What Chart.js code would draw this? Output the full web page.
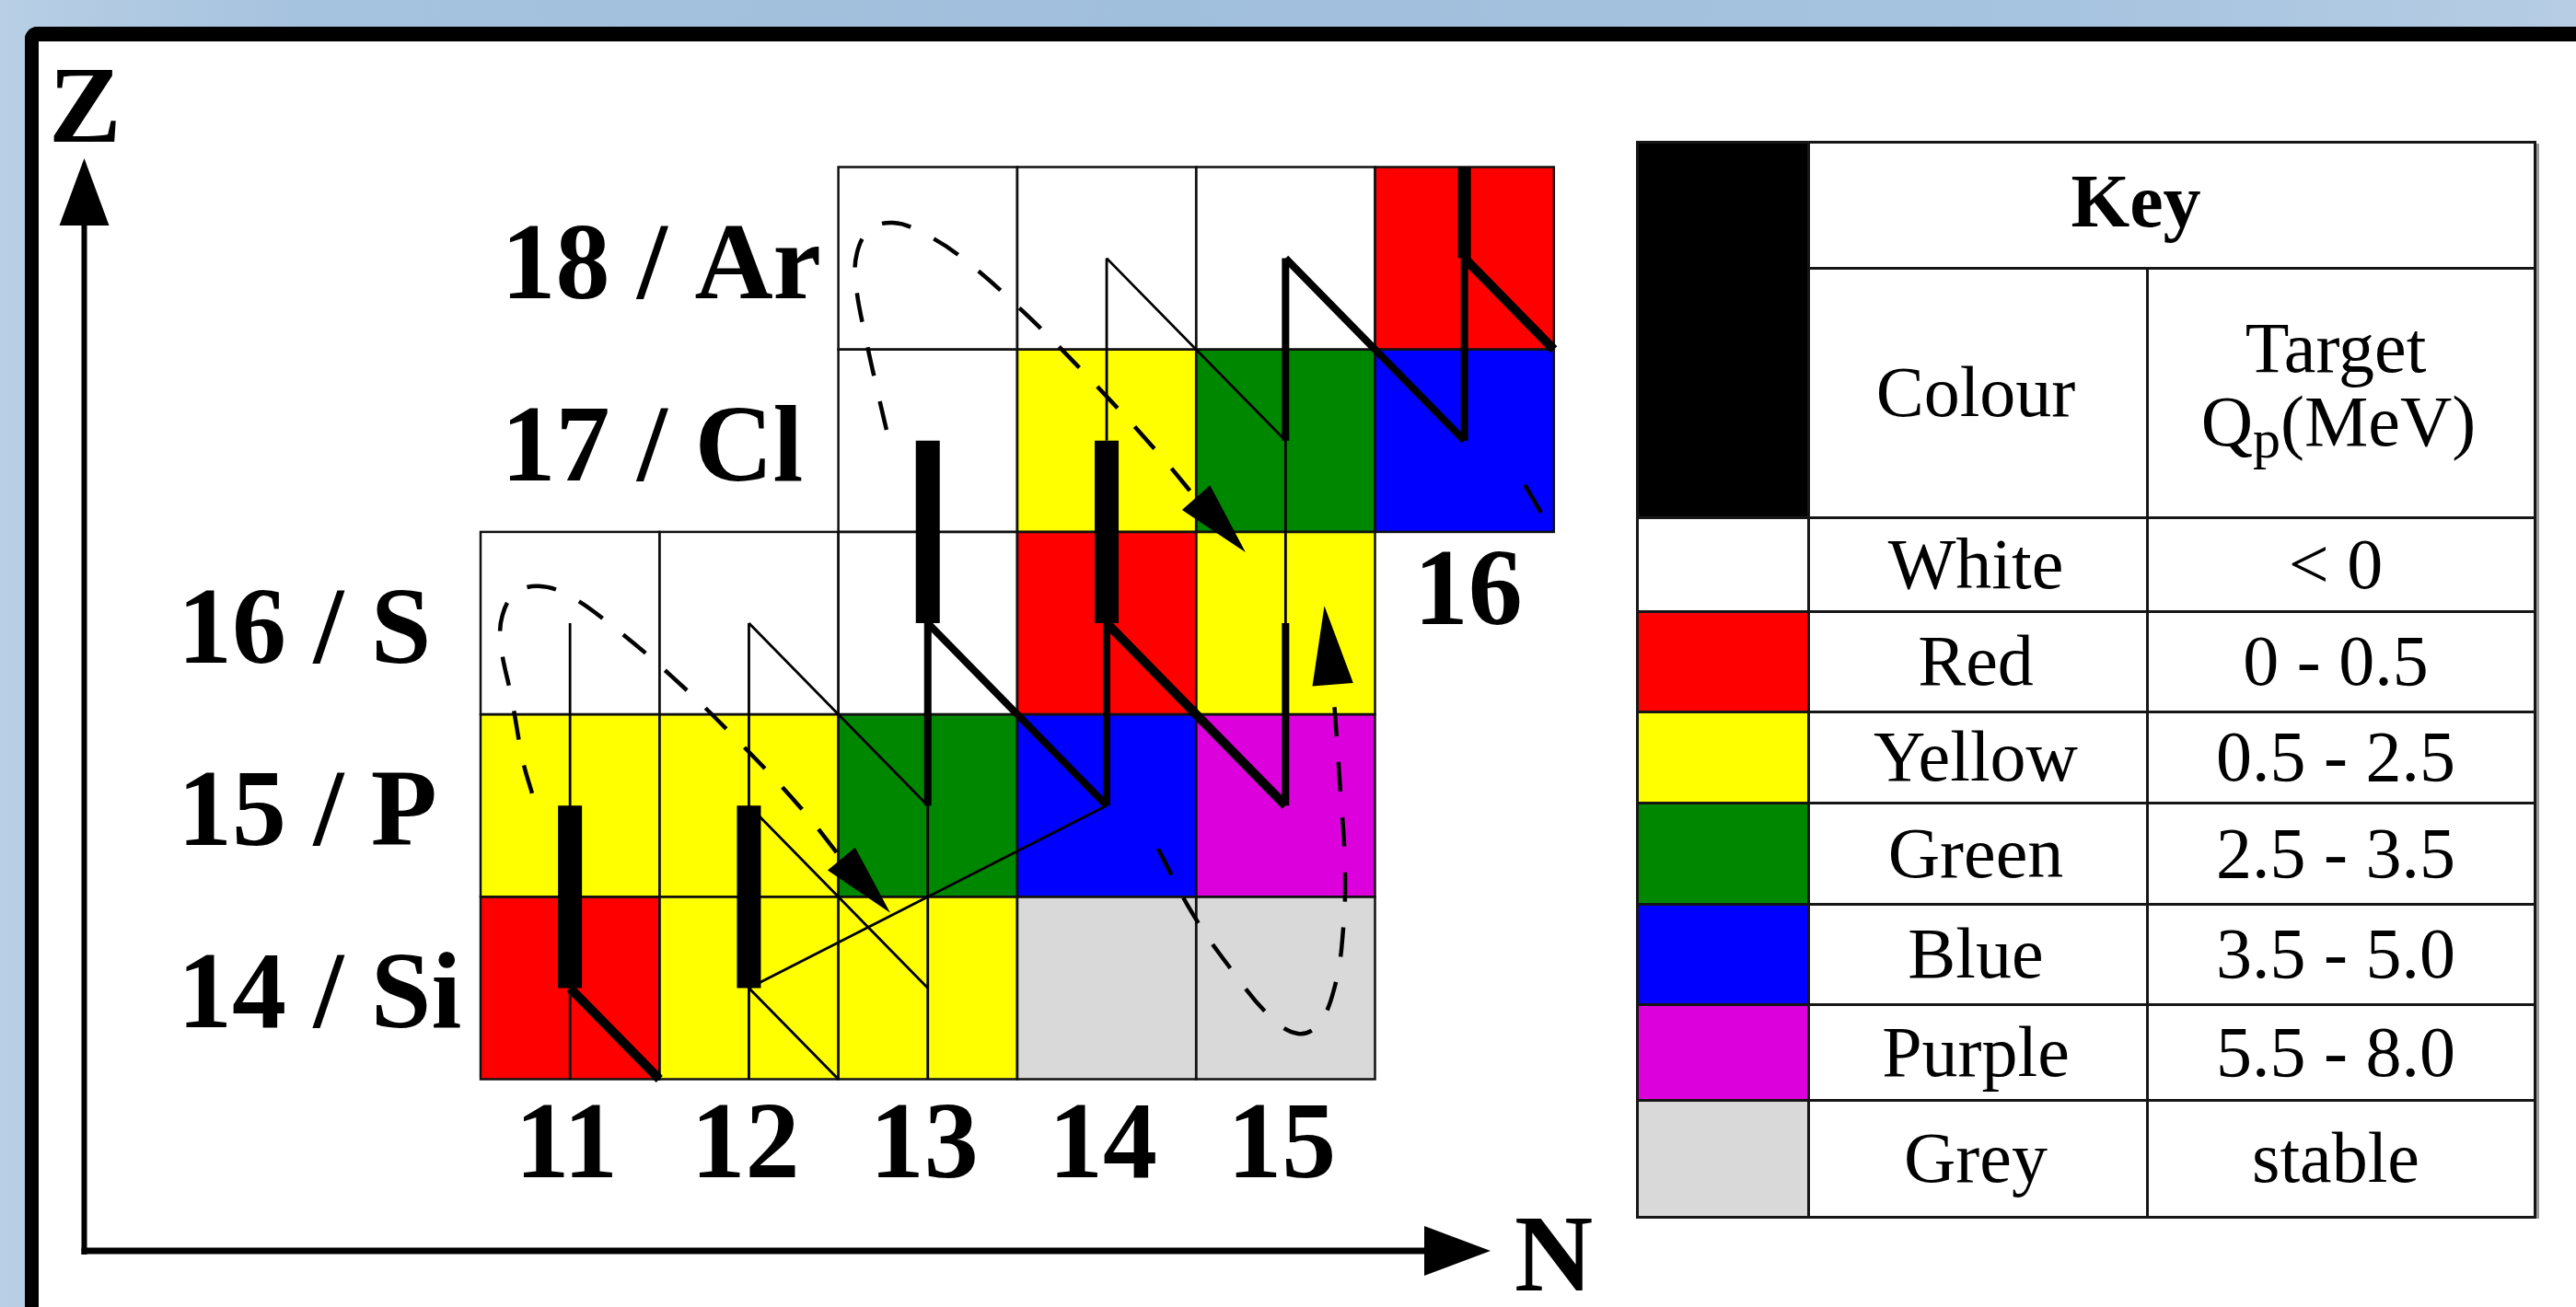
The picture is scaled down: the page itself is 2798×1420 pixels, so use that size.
<!DOCTYPE html>
<html>
<head>
<meta charset="utf-8">
<script src="https://cdn.jsdelivr.net/npm/chart.js@4.4.1/dist/chart.umd.min.js"></script>
<style>
html,body{margin:0;padding:0;width:2798px;height:1420px;overflow:hidden;}
body{position:relative;background:linear-gradient(90deg,#b8cfe5 0%,#a5c2de 12%,#a0bfdc 45%,#a6c3df 80%,#b6cde4 100%);font-family:'Liberation Serif','Times New Roman',serif;}
#frame{position:absolute;left:27px;top:29px;width:2800px;height:1420px;background:#fff;border-left:15px solid #000;border-top:16px solid #000;border-top-left-radius:14px;}
#chart{position:absolute;left:0;top:0;}
#key{position:absolute;left:0;top:0;width:2798px;height:1420px;}
.kl{position:absolute;background:#161616;}
.kf{position:absolute;}
.kt{position:absolute;text-align:center;white-space:nowrap;color:#000;font-family:'Liberation Serif','Times New Roman',serif;}
.kt sub{font-size:60px;vertical-align:-13px;line-height:0;}
</style>
</head>
<body>
<div id="frame"></div>
<canvas id="chart" width="2798" height="1420"></canvas>
<div id="key"></div>
<script>
// ---------------- data ----------------
const neutronNumbers = [11, 12, 13, 14, 15, 16];
const protonNumbers = [14, 15, 16, 17, 18];
const elementLabels = ['14 / Si', '15 / P', '16 / S', '17 / Cl', '18 / Ar'];
const neutronTickLabels = ['11', '12', '13', '14', '15'];
const extraNeutronLabel = '16';

// cell colour class per row, indexed like neutronNumbers
const colourZ18 = [null, null, 'White', 'White', 'White', 'Red'];
const colourZ17 = [null, null, 'White', 'Yellow', 'Green', 'Blue'];
const colourZ16 = ['White', 'White', 'White', 'Red', 'Yellow', null];
const colourZ15 = ['Yellow', 'Yellow', 'Green', 'Blue', 'Purple', null];
const colourZ14 = ['Red', 'Yellow', 'Yellow', 'Grey', 'Grey', null];

// key
const keyColours = ['White', 'Red', 'Yellow', 'Green', 'Blue', 'Purple', 'Grey'];
const keyQp = ['< 0', '0 - 0.5', '0.5 - 2.5', '2.5 - 3.5', '3.5 - 5.0', '5.5 - 8.0', 'stable'];

// beta-decay bars [N, Z from, Z to]
const strongBars = [[11, 15, 14], [12, 15, 14], [13, 17, 16], [14, 17, 16]];
const weakBars = [[16, 18.5, 18]];

// decay paths, points in (N, Z)
const thinPaths = [
  [[11, 16], [11, 13.5]],
  [[12, 16], [12, 13.5]],
  [[13, 15], [13, 13.5]],
  [[14, 18], [14, 17]],
  [[15, 17], [15, 16]],
  [[12, 16], [13, 15]],
  [[12, 15], [13, 14]],
  [[12, 14], [12.5, 13.5]],
  [[12, 14], [14, 15]],
  [[14, 18], [15, 17]]
];
const mediumPaths = [
  [[13, 16], [13, 15]],
  [[14, 16], [14, 15]],
  [[15, 16], [15, 15]],
  [[15, 18], [15, 17]],
  [[16, 18], [16, 17]],
  [[13, 16], [14, 15]],
  [[15, 18], [16, 17]]
];
const thickPaths = [
  [[14, 16], [15, 15]],
  [[16, 18], [16.5, 17.5]],
  [[11, 14], [11.5, 13.5]]
];

// dashed loops (N, Z)
const loopA = [[10.788, 15.067], [10.737, 15.244], [10.675, 15.582], [10.613, 15.885], [10.623, 16.046], [10.695, 16.163], [10.823, 16.203], [10.989, 16.153], [11.210, 16.005], [11.570, 15.707], [11.930, 15.364], [12.291, 14.986], [12.517, 14.709]];
const loopB = [[12.769, 17.060], [12.728, 17.232], [12.656, 17.549], [12.599, 17.852], [12.604, 18.028], [12.676, 18.155], [12.805, 18.195], [12.970, 18.140], [13.191, 18.003], [13.541, 17.701], [13.922, 17.323], [14.287, 16.934], [14.498, 16.687]];
const loopC = [[14.287, 14.764], [14.478, 14.411], [14.684, 14.118], [14.916, 13.841], [15.069, 13.750], [15.183, 13.800], [15.275, 14.007], [15.322, 14.320], [15.332, 14.673], [15.306, 15.087], [15.265, 15.657]];
const strayDash = [[16.338, 16.758], [16.428, 16.606]];

// arrowheads: base corner, base corner, tip (N, Z)
const arrowA = [[12.440, 14.645], [12.594, 14.770], [12.790, 14.412]];
const arrowB = [[14.421, 16.621], [14.578, 16.755], [14.776, 16.388]];
const arrowC = [[15.150, 15.655], [15.378, 15.672], [15.217, 16.094]];

// ---------------- styles ----------------
const fills = {White: '#ffffff', Red: '#ff0000', Yellow: '#ffff00', Green: '#008700', Blue: '#0000ff', Purple: '#dc00dc', Grey: '#d9d9d9'};
const W = {thin: 2.8, medium: 8, thick: 10, bar: 26, barNarrow: 14, dash: 4.5};
const serif = '"Liberation Serif", "Times New Roman", serif';

function lineSet(points, width, opts) {
  return Object.assign({
    data: points.map(p => ({x: p[0], y: p[1]})),
    showLine: true, borderColor: '#000', backgroundColor: '#000',
    borderWidth: width, pointRadius: 0, pointHoverRadius: 0,
    borderCapStyle: 'butt', borderJoinStyle: 'miter', tension: 0, fill: false, clip: false
  }, opts || {});
}

const datasets = [];
thinPaths.forEach(p => datasets.push(lineSet(p, W.thin)));
mediumPaths.forEach(p => datasets.push(lineSet(p, W.medium)));
thickPaths.forEach(p => datasets.push(lineSet(p, W.thick)));
strongBars.forEach(b => datasets.push(lineSet([[b[0], b[1]], [b[0], b[2]]], W.bar)));
weakBars.forEach(b => datasets.push(lineSet([[b[0], b[1]], [b[0], b[2]]], W.barNarrow)));
[loopA, loopB, loopC].forEach(l => datasets.push(lineSet(l, W.dash, {tension: 0.4, borderDash: [32, 28], borderCapStyle: 'butt'})));
datasets.push(lineSet(strayDash, W.dash));

const rows = [[18, colourZ18], [17, colourZ17], [16, colourZ16], [15, colourZ15], [14, colourZ14]];

const nuclidePlugin = {
  id: 'nuclide',
  beforeDatasetsDraw(chart) {
    const {ctx} = chart, x = chart.scales.x, y = chart.scales.y;
    ctx.save();
    const rects = [];
    rows.forEach(([z, cols]) => cols.forEach((c, i) => {
      if (!c) return;
      const n = neutronNumbers[i];
      const x0 = x.getPixelForValue(n - 0.5), x1 = x.getPixelForValue(n + 0.5);
      const y0 = y.getPixelForValue(z + 0.5), y1 = y.getPixelForValue(z - 0.5);
      ctx.fillStyle = fills[c];
      ctx.fillRect(x0, y0, x1 - x0, y1 - y0);
      rects.push([x0, y0, x1 - x0, y1 - y0]);
    }));
    ctx.strokeStyle = '#111';
    ctx.lineWidth = 2.5;
    rects.forEach(r => ctx.strokeRect(r[0], r[1], r[2], r[3]));
    ctx.restore();
  },
  afterDatasetsDraw(chart) {
    const {ctx, chartArea} = chart, x = chart.scales.x, y = chart.scales.y;
    ctx.save();
    ctx.fillStyle = '#000';
    [arrowA, arrowB, arrowC].forEach(a => {
      ctx.beginPath();
      a.forEach((p, i) => {
        const px = x.getPixelForValue(p[0]), py = y.getPixelForValue(p[1]);
        if (i === 0) ctx.moveTo(px, py); else ctx.lineTo(px, py);
      });
      ctx.closePath();
      ctx.fill();
    });
    ctx.font = 'bold 118px ' + serif;
    ctx.textBaseline = 'alphabetic';
    ctx.textAlign = 'left';
    // element labels: rows 14-16 begin at N=11, rows 17-18 begin at N=13
    protonNumbers.forEach((z, i) => {
      const lx = z <= 16 ? chartArea.left + 102 : x.getPixelForValue(13 - 0.5) - 366;
      ctx.fillText(elementLabels[i], lx, y.getPixelForValue(z) + 43);
    });
    ctx.textAlign = 'center';
    neutronTickLabels.forEach((t, i) => {
      ctx.fillText(t, x.getPixelForValue(neutronNumbers[i]) - 4, y.getPixelForValue(13) + 7);
    });
    ctx.fillText(extraNeutronLabel, x.getPixelForValue(16) + 4, y.getPixelForValue(16) + 1);
    ctx.restore();
  },
  afterDraw(chart) {
    const {ctx, chartArea} = chart;
    const L = chartArea.left, T = chartArea.top, R = chartArea.right, B = chartArea.bottom;
    ctx.save();
    ctx.fillStyle = '#000';
    // vertical axis
    ctx.fillRect(L - 2.5, T + 70, 6, B - T - 66);
    ctx.beginPath();
    ctx.moveTo(L + 0.5, T); ctx.lineTo(L + 27.5, T + 73); ctx.lineTo(L - 26.5, T + 73); ctx.closePath(); ctx.fill();
    // horizontal axis
    ctx.fillRect(L - 2.5, B - 3.5, R - L - 66, 7);
    ctx.beginPath();
    ctx.moveTo(R, B); ctx.lineTo(R - 72, B - 27); ctx.lineTo(R - 72, B + 27); ctx.closePath(); ctx.fill();
    ctx.font = 'bold 118px ' + serif;
    ctx.textAlign = 'left';
    ctx.textBaseline = 'alphabetic';
    ctx.fillText('Z', L - 38, T - 18);
    ctx.fillText('N', R + 26, B + 43);
    ctx.restore();
  }
};

new Chart(document.getElementById('chart'), {
  type: 'scatter',
  data: {datasets},
  options: {
    responsive: false,
    animation: false,
    devicePixelRatio: 1,
    events: [],
    layout: {padding: {left: 91, top: 172, right: 1179, bottom: 61}},
    plugins: {legend: {display: false}, tooltip: {enabled: false}, title: {display: false}},
    scales: {
      x: {type: 'linear', display: false, min: 8.2818, max: 16.1459},
      y: {type: 'linear', display: false, min: 12.559, max: 18.548}
    }
  },
  plugins: [nuclidePlugin]
});

// ---------------- key table (HTML) ----------------
const KX = [1778, 1964, 2332.5, 2753.5];
const KY = [154, 291, 562, 664, 773, 872, 982, 1091, 1195, 1322];
const keyEl = document.getElementById('key');
function box(cls, l, t, w, h, bg) {
  const d = document.createElement('div');
  d.className = cls;
  d.style.left = l + 'px'; d.style.top = t + 'px'; d.style.width = w + 'px'; d.style.height = h + 'px';
  if (bg) d.style.background = bg;
  keyEl.appendChild(d);
  return d;
}
function text(html, cx, baseline, size, bold) {
  const d = document.createElement('div');
  d.className = 'kt';
  d.style.left = (cx - 300) + 'px';
  d.style.width = '600px';
  d.style.top = (baseline - 0.8375 * size) + 'px';
  d.style.height = size + 'px';
  d.style.lineHeight = size + 'px';
  d.style.fontSize = size + 'px';
  d.style.fontWeight = bold ? 'bold' : 'normal';
  d.innerHTML = html;
  keyEl.appendChild(d);
}
box('kf', KX[0], KY[0], KX[1] - KX[0], KY[2] - KY[0], '#000');
keyColours.forEach((c, i) => box('kf', KX[0], KY[i + 2], KX[1] - KX[0], KY[i + 3] - KY[i + 2], fills[c]));
const LW = 3;
// vertical rules
[[KX[0], KY[0]], [KX[1], KY[0]], [KX[2], KY[1]], [KX[3], KY[0]]].forEach(([vx, vy]) => box('kl', vx - LW / 2, vy - LW / 2, LW, KY[9] - vy + LW));
// horizontal rules
KY.forEach((hy, i) => {
  const x0 = i === 1 ? KX[1] : KX[0];
  box('kl', x0 - LW / 2, hy - LW / 2, KX[3] - x0 + LW, LW);
});
box('kf', KX[3] + 1.5, KY[0] + 2, 2.5, KY[9] - KY[0], '#9a9a9a');
text('Key', 2320, 247, 82, true);
text('Colour', 2146, 452, 78, false);
text('Target', 2537, 404, 78, false);
text('Q<sub>p</sub>(MeV)', 2540, 484, 78, false);
keyColours.forEach((c, i) => {
  const b = (KY[i + 2] + KY[i + 3]) / 2 + 26;
  text(c, 2146, b, 78, false);
  text(keyQp[i].replace('<', '&lt;'), 2537, b, 78, false);
});
</script>
</body>
</html>
